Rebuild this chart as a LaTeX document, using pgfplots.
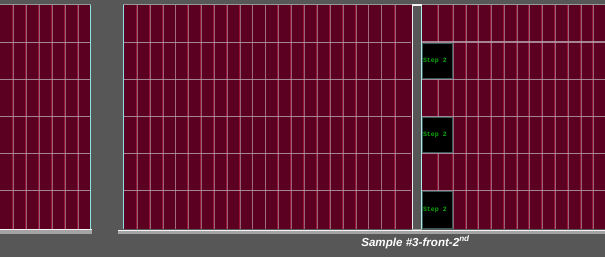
\documentclass[border=0pt]{standalone}
\usepackage{pgfplots}
\pgfplotsset{compat=1.18}
\usepackage{pgfplotstable}
\usepackage{fontspec}
\setmainfont{Liberation Sans}
\newfontfamily\monof{Liberation Mono}
\definecolor{bg}{HTML}{575757}
\definecolor{cell}{HTML}{5C0021}
\definecolor{gridl}{HTML}{A08290}
\definecolor{gridr}{HTML}{B81C44}
\definecolor{edge}{HTML}{8FE0E0}
\definecolor{rail}{HTML}{A4A4A4}
\definecolor{stepg}{HTML}{10A810}

% vertical cell lines: x, top y, length
\pgfplotstableread{
x y len
12.7 5 224
25.8 5 224
38.7 5 224
51.7 5 224
64.7 5 224
77.7 5 224
136.7 5 224
149.7 5 224
162.7 5 224
175.4 5 224
188.2 5 224
201.1 5 224
214.0 5 224
226.8 5 224
239.7 5 224
252.5 5 224
265.5 5 224
278.3 5 224
291.2 5 224
304.1 5 224
317.0 5 224
329.9 5 224
342.8 5 224
355.7 5 224
368.6 5 224
381.6 5 224
394.8 5 224
437.7 5 224
452.7 5 224
465.7 5 224
478.3 5 224
491.0 5 224
504.0 5 224
516.7 5 224
529.3 5 224
542.3 5 224
555.0 5 224
567.7 5 224
580.7 5 224
593.3 5 224
}\vlines

% horizontal cell lines: left x, y, length
\pgfplotstableread{
x y len
0 42.6 91
0 79.6 91
0 116.7 91
0 153.7 91
0 190.7 91
123 42.6 288
123 79.6 288
123 116.7 288
123 153.7 288
123 190.7 288
421 42.0 184
421 79.3 184
421 116.5 184
421 153.5 184
421 190.5 184
}\hlines

\begin{document}
\begin{tikzpicture}
\begin{axis}[
  scale only axis, width=605pt, height=257pt,
  xmin=0, xmax=605, ymin=0, ymax=257, y dir=reverse,
  enlargelimits=false, ticks=none,
  axis line style={draw=none},
  axis background/.style={fill=bg},
  clip=true,
]
% module fills
\addplot[fill=cell, draw=none] coordinates {(0,5) (91,5) (91,229) (0,229)} -- cycle;
\addplot[fill=cell, draw=none] coordinates {(123,5) (411.5,5) (411.5,229) (123,229)} -- cycle;
\addplot[fill=cell, draw=none] coordinates {(421.5,5) (605,5) (605,229) (421.5,229)} -- cycle;
% vertical lines (red fringe + light core)
\addplot[gridr, line width=0.6pt, opacity=0.7, quiver={u=0, v=\thisrow{len}}] table[x expr=\thisrow{x}-0.6, y=y] {\vlines};
\addplot[gridl, line width=0.8pt, opacity=0.8, quiver={u=0, v=\thisrow{len}}] table[x expr=\thisrow{x}+0.2, y=y] {\vlines};
% horizontal lines
\addplot[gridl!80!white, line width=1.1pt, opacity=0.85, quiver={u=\thisrow{len}, v=0}] table[x=x, y=y] {\hlines};
% black label patches
\addplot[fill=black, draw=edge!40!black, line width=0.4pt] coordinates {(422.5,43) (452,43) (452,78.5) (422.5,78.5)} -- cycle;
\addplot[fill=black, draw=edge!40!black, line width=0.4pt] coordinates {(422.5,117) (452,117) (452,152.5) (422.5,152.5)} -- cycle;
\addplot[fill=black, draw=edge!40!black, line width=0.4pt] coordinates {(422.5,191) (452,191) (452,228) (422.5,228)} -- cycle;
% module edges
\addplot[edge, line width=1pt] coordinates {(90.7,5) (90.7,229)};
\addplot[edge, line width=1.2pt] coordinates {(123.3,5) (123.3,229)};
\addplot[white!85!gray, line width=1.6pt] coordinates {(412.3,4.5) (412.3,229)};
\addplot[edge!70!white, line width=1.2pt] coordinates {(421.3,5) (421.3,229)};
\addplot[white!90!gray, line width=1.3pt] coordinates {(411.5,5) (421.5,5)};
\addplot[gray!60!white, line width=0.6pt, opacity=0.7] coordinates {(123,4.6) (411.5,4.6)};
\addplot[gray!60!white, line width=0.6pt, opacity=0.7] coordinates {(421.5,4.6) (605,4.6)};
\addplot[gray!60!white, line width=0.6pt, opacity=0.7] coordinates {(0,4.6) (91,4.6)};
% bottom rails
\addplot[fill=rail, draw=none] coordinates {(0,229) (92,229) (92,233.5) (0,233.5)} -- cycle;
\addplot[fill=rail, draw=none] coordinates {(118,229.5) (605,229.5) (605,233.5) (118,233.5)} -- cycle;
\addplot[white!92!gray, line width=0.9pt] coordinates {(0,229.6) (92,229.6)};
\addplot[white!92!gray, line width=0.9pt] coordinates {(118,230.2) (605,230.2)};
\addplot[gray!70!white, line width=0.6pt] coordinates {(411.5,229) (421.5,229)};
% labels
\node[text=stepg, font=\monof\bfseries\fontsize{6.6}{6.6}\selectfont, anchor=west, inner sep=0pt] at (axis cs:422.8,60.5) {Step 2};
\node[text=stepg, font=\monof\bfseries\fontsize{6.6}{6.6}\selectfont, anchor=west, inner sep=0pt] at (axis cs:422.8,134.5) {Step 2};
\node[text=stepg, font=\monof\bfseries\fontsize{6.6}{6.6}\selectfont, anchor=west, inner sep=0pt] at (axis cs:422.8,209.5) {Step 2};
\node[text=white, font=\fontsize{11.6}{11.6}\selectfont\itshape\bfseries, inner sep=0pt] at (axis cs:415.5,242.3) {Sample \#3-front-2\textsuperscript{nd}};
\end{axis}
\end{tikzpicture}
\end{document}
